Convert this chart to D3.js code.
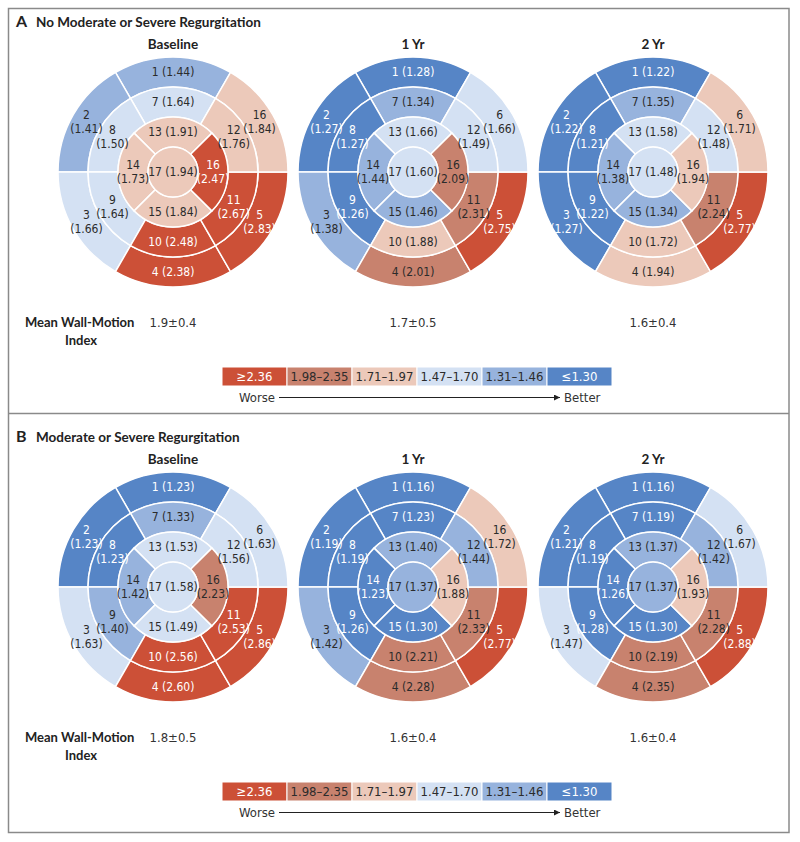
<!DOCTYPE html>
<html>
<head>
<meta charset="utf-8">
<script src="https://cdn.jsdelivr.net/npm/d3@7"></script>
<style>
  body { margin: 0; background: #fff; }
  svg { display: block; }
  .narrow { font-family: 'Liberation Sans Narrow', 'DejaVu Sans Condensed', 'Arial Narrow', sans-serif; }
  .head { font-family: Lato, 'Open Sans', sans-serif; font-weight: 700; }
</style>
</head>
<body>
<svg id="chart" width="800" height="842"></svg>
<script>
const SEGMENTS = d3.range(1, 18);
const TIMEPOINTS = ['Baseline', '1 Yr', '2 Yr'];
const PANEL_LETTERS = ['A', 'B'];
const PANEL_TITLES = ['No Moderate or Severe Regurgitation', 'Moderate or Severe Regurgitation'];

// segment values 1..17
const NO_MR_BASELINE = [1.44, 1.41, 1.66, 2.38, 2.83, 1.84, 1.64, 1.50, 1.64, 2.48, 2.67, 1.76, 1.91, 1.73, 1.84, 2.47, 1.94];
const NO_MR_1YR      = [1.28, 1.27, 1.38, 2.01, 2.75, 1.66, 1.34, 1.27, 1.26, 1.88, 2.31, 1.49, 1.66, 1.44, 1.46, 2.09, 1.60];
const NO_MR_2YR      = [1.22, 1.22, 1.27, 1.94, 2.77, 1.71, 1.35, 1.21, 1.22, 1.72, 2.24, 1.48, 1.58, 1.38, 1.34, 1.94, 1.48];
const MR_BASELINE    = [1.23, 1.23, 1.63, 2.60, 2.86, 1.63, 1.33, 1.23, 1.40, 2.56, 2.53, 1.56, 1.53, 1.42, 1.49, 2.23, 1.58];
const MR_1YR         = [1.16, 1.19, 1.42, 2.28, 2.77, 1.72, 1.23, 1.19, 1.26, 2.21, 2.33, 1.44, 1.40, 1.23, 1.30, 1.88, 1.37];
const MR_2YR         = [1.16, 1.21, 1.47, 2.35, 2.88, 1.67, 1.19, 1.19, 1.28, 2.19, 2.28, 1.42, 1.37, 1.26, 1.30, 1.93, 1.37];

const NO_MR_MEAN = ['1.9±0.4', '1.7±0.5', '1.6±0.4'];
const MR_MEAN    = ['1.8±0.5', '1.6±0.4', '1.6±0.4'];

// segment numbers as printed (two plots print "16" on segment 6)
const NO_MR_NAMES = [SEGMENTS.map(s => s === 6 ? '16' : String(s)), SEGMENTS.map(String), SEGMENTS.map(String)];
const MR_NAMES    = [SEGMENTS.map(String), SEGMENTS.map(s => s === 6 ? '16' : String(s)), SEGMENTS.map(String)];

const LEGEND_LABELS = ['≥2.36', '1.98–2.35', '1.71–1.97', '1.47–1.70', '1.31–1.46', '≤1.30'];
const LEGEND_COLORS = ['#cc5037', '#c8826e', '#ecc9ba', '#d4e1f3', '#97b3dd', '#5685c6'];
const THRESHOLDS = [1.305, 1.465, 1.705, 1.975, 2.355];

const panels = [
  { letter: PANEL_LETTERS[0], title: PANEL_TITLES[0], cy: 172, series: [NO_MR_BASELINE, NO_MR_1YR, NO_MR_2YR], names: NO_MR_NAMES, means: NO_MR_MEAN },
  { letter: PANEL_LETTERS[1], title: PANEL_TITLES[1], cy: 587, series: [MR_BASELINE, MR_1YR, MR_2YR], names: MR_NAMES, means: MR_MEAN }
];

const fill = d3.scaleThreshold().domain(THRESHOLDS).range(LEGEND_COLORS.slice().reverse());
const ink = d3.scaleThreshold().domain(THRESHOLDS).range(['#fff', '#2b2b2b', '#2b2b2b', '#2b2b2b', '#2b2b2b', '#fff']);

const xScale = d3.scalePoint().domain(TIMEPOINTS).range([173, 653]);
const ringOf = s => s <= 6 ? 'basal' : s <= 12 ? 'mid' : s <= 16 ? 'apical' : 'apex';
const radius = d3.scaleOrdinal().domain(['basal', 'mid', 'apical', 'apex']).range([[85, 115], [55, 85], [25, 55], [0, 25]]);
const angle6 = d3.scaleLinear().domain([0, 6]).range([0, -2 * Math.PI]);
const angle4 = d3.scaleLinear().domain([0, 4]).range([0, -2 * Math.PI]);

const arc = d3.arc();

function segGeom(s) {
  const ring = ringOf(s);
  const [r0, r1] = radius(ring);
  if (ring === 'apex') return { innerRadius: 0, outerRadius: r1, startAngle: 0, endAngle: 2 * Math.PI, pos: 0, n: 1 };
  const n = ring === 'apical' ? 4 : 6;
  const pos = ring === 'apical' ? s - 13 : (s - 1) % 6;
  const c = (n === 4 ? angle4 : angle6)(pos);
  const half = Math.PI / n;
  return { innerRadius: r0, outerRadius: r1, startAngle: c - half, endAngle: c + half, pos, n };
}

const svg = d3.select('#chart');

svg.append('rect')
  .attr('x', 8.5).attr('y', 8.5).attr('width', 780.5).attr('height', 824)
  .attr('fill', 'none').attr('stroke', '#8a8a8a').attr('stroke-width', 1.5);
svg.append('line')
  .attr('x1', 8.5).attr('x2', 789).attr('y1', 413.5).attr('y2', 413.5)
  .attr('stroke', '#8a8a8a').attr('stroke-width', 1.5);

svg.append('defs').append('marker')
  .attr('id', 'arrow').attr('viewBox', '0 0 10 10').attr('refX', 10).attr('refY', 5)
  .attr('markerWidth', 9).attr('markerHeight', 6).attr('markerUnits', 'userSpaceOnUse').attr('orient', 'auto')
  .append('path').attr('d', 'M0,0L10,5L0,10Z').attr('fill', '#222');

panels.forEach(p => {
  const g = svg.append('g');
  const cy = p.cy;

  const title = g.append('text').attr('class', 'head').attr('y', cy - 145).attr('fill', '#222');
  title.append('tspan').attr('x', 16).attr('font-size', 16).text(p.letter);
  title.append('tspan').attr('x', 36).attr('font-size', 13.5).text(p.title);

  TIMEPOINTS.forEach((t, i) => {
    const cx = xScale(t);
    const values = p.series[i];
    const names = p.names[i];

    g.append('text').attr('class', 'head')
      .attr('x', cx).attr('y', cy - 123)
      .attr('text-anchor', 'middle').attr('font-size', 13.5).attr('fill', '#222')
      .text(t);

    const bull = g.append('g').attr('transform', `translate(${cx},${cy})`);
    const segs = SEGMENTS.map((s, k) => ({ s, v: values[k], name: names[k], ...segGeom(s) }));

    bull.selectAll('path')
      .data(segs)
      .enter()
      .append('path')
      .attr('d', d => arc(d))
      .attr('fill', d => fill(d.v))
      .attr('stroke', '#fff')
      .attr('stroke-width', 1.5);

    const labels = bull.selectAll('.lbl')
      .data(segs)
      .enter()
      .append('text')
      .classed('lbl', true)
      .classed('narrow', true)
      .attr('text-anchor', 'middle')
      .attr('font-size', 12)
      .attr('fill', d => ink(d.v))
      .attr('transform', d => {
        const [x, y] = d.n === 1 ? [0, 0] : arc.centroid(d);
        return `translate(${x},${y})`;
      });

    labels.each(function (d) {
      const el = d3.select(this);
      const single = d.n === 1 || d.pos === 0 || d.pos === d.n / 2;
      const val = `(${d.v.toFixed(2)})`;
      if (single) {
        el.append('tspan').attr('x', 0).attr('y', 4).text(`${d.name} ${val}`);
      } else {
        el.append('tspan').attr('x', 0).attr('y', -3).text(d.name);
        el.append('tspan').attr('x', 0).attr('y', 11).text(val);
      }
    });

    g.append('text').attr('class', 'narrow')
      .attr('x', cx).attr('y', cy + 155)
      .attr('text-anchor', 'middle').attr('font-size', 13).attr('fill', '#333')
      .text(p.means[i]);
  });

  g.append('text').attr('class', 'head')
    .attr('x', 25).attr('y', cy + 155).attr('font-size', 13).attr('fill', '#222')
    .text('Mean Wall-Motion');
  g.append('text').attr('class', 'head')
    .attr('x', 81).attr('y', cy + 173).attr('text-anchor', 'middle').attr('font-size', 13).attr('fill', '#222')
    .text('Index');

  // legend
  const legendX = d3.scaleBand().domain(LEGEND_LABELS).range([222, 612]);
  const legendTop = cy + 195;
  const leg = g.append('g');
  leg.selectAll('rect')
    .data(LEGEND_LABELS)
    .enter()
    .append('rect')
    .attr('x', d => legendX(d))
    .attr('y', legendTop)
    .attr('width', legendX.bandwidth())
    .attr('height', 19)
    .attr('fill', (d, i) => LEGEND_COLORS[i])
    .attr('stroke', '#fff')
    .attr('stroke-width', 1);
  leg.selectAll('text')
    .data(LEGEND_LABELS)
    .enter()
    .append('text')
    .attr('class', 'narrow')
    .attr('x', d => legendX(d) + legendX.bandwidth() / 2)
    .attr('y', legendTop + 14)
    .attr('text-anchor', 'middle')
    .attr('font-size', 13)
    .attr('fill', (d, i) => (i === 0 || i === 5) ? '#fff' : '#2b2b2b')
    .text(d => d);

  g.append('text').attr('class', 'narrow')
    .attr('x', 239).attr('y', cy + 230).attr('font-size', 13).attr('fill', '#333').text('Worse');
  g.append('line')
    .attr('x1', 279).attr('x2', 560).attr('y1', cy + 225.5).attr('y2', cy + 225.5)
    .attr('stroke', '#222').attr('stroke-width', 1)
    .attr('marker-end', 'url(#arrow)');
  g.append('text').attr('class', 'narrow')
    .attr('x', 564).attr('y', cy + 230).attr('font-size', 13).attr('fill', '#333').text('Better');
});
</script>
</body>
</html>
